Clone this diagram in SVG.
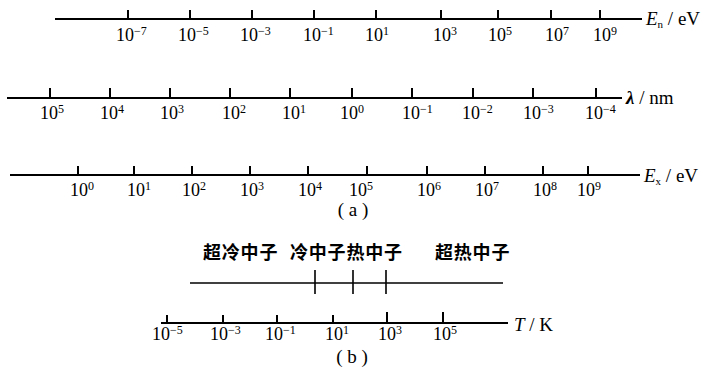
<svg xmlns="http://www.w3.org/2000/svg" width="704" height="373" viewBox="0 0 704 373">
<style>
.ax{stroke:#000;stroke-width:2;fill:none}
.tk{stroke:#000;stroke-width:2}
.tk2{stroke:#000;stroke-width:1.6}
.n{font-family:"Liberation Serif","Times New Roman",serif;font-size:18px;fill:#000}
.s{font-size:12px}
.lab{font-family:"Liberation Serif","Times New Roman",serif;font-size:19px;fill:#000}
.cjk{font-family:"Noto Sans CJK SC","Noto Sans CJK JP",sans-serif;font-size:18px;font-weight:bold;letter-spacing:0.8px;fill:#000}
</style>
<rect width="704" height="373" fill="#fff"/>
<g id="connectors">
<line class="ax" x1="55" y1="19" x2="642" y2="19"/>
<path class="tk" d="M128 10V19M190 10V19M252 10V19M314 10V19M376 10V19M441 10V19M498 10V19M551 10V19M600 10V19"/>
<line class="ax" x1="7" y1="98" x2="622" y2="98"/>
<path class="tk" d="M50 88V98M110 88V98M170 88V98M230 88V98M290 88V98M352 88V98M412 88V98M473 88V98M533 88V98M596 88V98"/>
<line class="ax" x1="10" y1="175" x2="640" y2="175"/>
<path class="tk" d="M78 166V175M134 166V175M192 166V175M250 166V175M308 166V175M367 166V175M427 166V175M485 166V175M543 166V175M588 166V175"/>
<line class="ax" x1="190" y1="283" x2="503" y2="283" style="stroke-width:1.6"/>
<path class="tk2" d="M315 270V294M353 270V294M386 270V294"/>
<line class="ax" x1="161" y1="323" x2="508" y2="323"/>
<path class="tk" d="M167 315V323M223 315V323M277 315V323M333 315V323M387 312V323M443 312V323"/>
</g>
<g id="En-labels" class="n">
<text x="116" y="41">10<tspan class="s" dy="-6">−7</tspan></text>
<text x="178" y="41">10<tspan class="s" dy="-6">−5</tspan></text>
<text x="240" y="41">10<tspan class="s" dy="-6">−3</tspan></text>
<text x="303" y="41">10<tspan class="s" dy="-6">−1</tspan></text>
<text x="365" y="41">10<tspan class="s" dy="-6">1</tspan></text>
<text x="433" y="41">10<tspan class="s" dy="-6">3</tspan></text>
<text x="488" y="41">10<tspan class="s" dy="-6">5</tspan></text>
<text x="545" y="41">10<tspan class="s" dy="-6">7</tspan></text>
<text x="593" y="41">10<tspan class="s" dy="-6">9</tspan></text>
</g>
<g id="En-title"><text class="lab" x="646" y="25"><tspan font-style="italic">E</tspan><tspan font-size="11" dy="3">n</tspan><tspan dy="-3"> / eV</tspan></text></g>
<g id="lambda-labels" class="n">
<text x="40" y="119">10<tspan class="s" dy="-6">5</tspan></text>
<text x="100" y="119">10<tspan class="s" dy="-6">4</tspan></text>
<text x="160" y="119">10<tspan class="s" dy="-6">3</tspan></text>
<text x="222" y="119">10<tspan class="s" dy="-6">2</tspan></text>
<text x="282" y="119">10<tspan class="s" dy="-6">1</tspan></text>
<text x="340" y="119">10<tspan class="s" dy="-6">0</tspan></text>
<text x="402" y="119">10<tspan class="s" dy="-6">−1</tspan></text>
<text x="462" y="119">10<tspan class="s" dy="-6">−2</tspan></text>
<text x="523" y="119">10<tspan class="s" dy="-6">−3</tspan></text>
<text x="585" y="119">10<tspan class="s" dy="-6">−4</tspan></text>
</g>
<g id="lambda-title"><text class="lab" x="626" y="104"><tspan font-style="italic" font-weight="bold">λ</tspan> / nm</text></g>
<g id="Ex-labels" class="n">
<text x="70" y="196">10<tspan class="s" dy="-6">0</tspan></text>
<text x="127" y="196">10<tspan class="s" dy="-6">1</tspan></text>
<text x="182" y="196">10<tspan class="s" dy="-6">2</tspan></text>
<text x="240" y="196">10<tspan class="s" dy="-6">3</tspan></text>
<text x="298" y="196">10<tspan class="s" dy="-6">4</tspan></text>
<text x="349" y="196">10<tspan class="s" dy="-6">5</tspan></text>
<text x="417" y="196">10<tspan class="s" dy="-6">6</tspan></text>
<text x="475" y="196">10<tspan class="s" dy="-6">7</tspan></text>
<text x="533" y="196">10<tspan class="s" dy="-6">8</tspan></text>
<text x="577" y="196">10<tspan class="s" dy="-6">9</tspan></text>
</g>
<g id="Ex-title"><text class="lab" x="644" y="182"><tspan font-style="italic">E</tspan><tspan font-size="11" dy="3">x</tspan><tspan dy="-3"> / eV</tspan></text></g>
<g id="caption-a"><text class="lab" x="353" y="216" text-anchor="middle" font-size="15">( a )</text></g>
<g id="neutron-labels" class="cjk">
<text x="203" y="259">超冷中子</text>
<text x="290" y="259">冷中子热中子</text>
<text x="435" y="259">超热中子</text>
</g>
<g id="T-labels" class="n">
<text x="152" y="340">10<tspan class="s" dy="-6">−5</tspan></text>
<text x="210" y="340">10<tspan class="s" dy="-6">−3</tspan></text>
<text x="265" y="340">10<tspan class="s" dy="-6">−1</tspan></text>
<text x="325" y="340">10<tspan class="s" dy="-6">1</tspan></text>
<text x="378" y="340">10<tspan class="s" dy="-6">3</tspan></text>
<text x="433" y="340">10<tspan class="s" dy="-6">5</tspan></text>
</g>
<g id="T-title"><text class="lab" x="514" y="331"><tspan font-style="italic">T</tspan> / K</text></g>
<g id="caption-b"><text class="lab" x="352" y="363" text-anchor="middle" font-size="15">( b )</text></g>
</svg>
